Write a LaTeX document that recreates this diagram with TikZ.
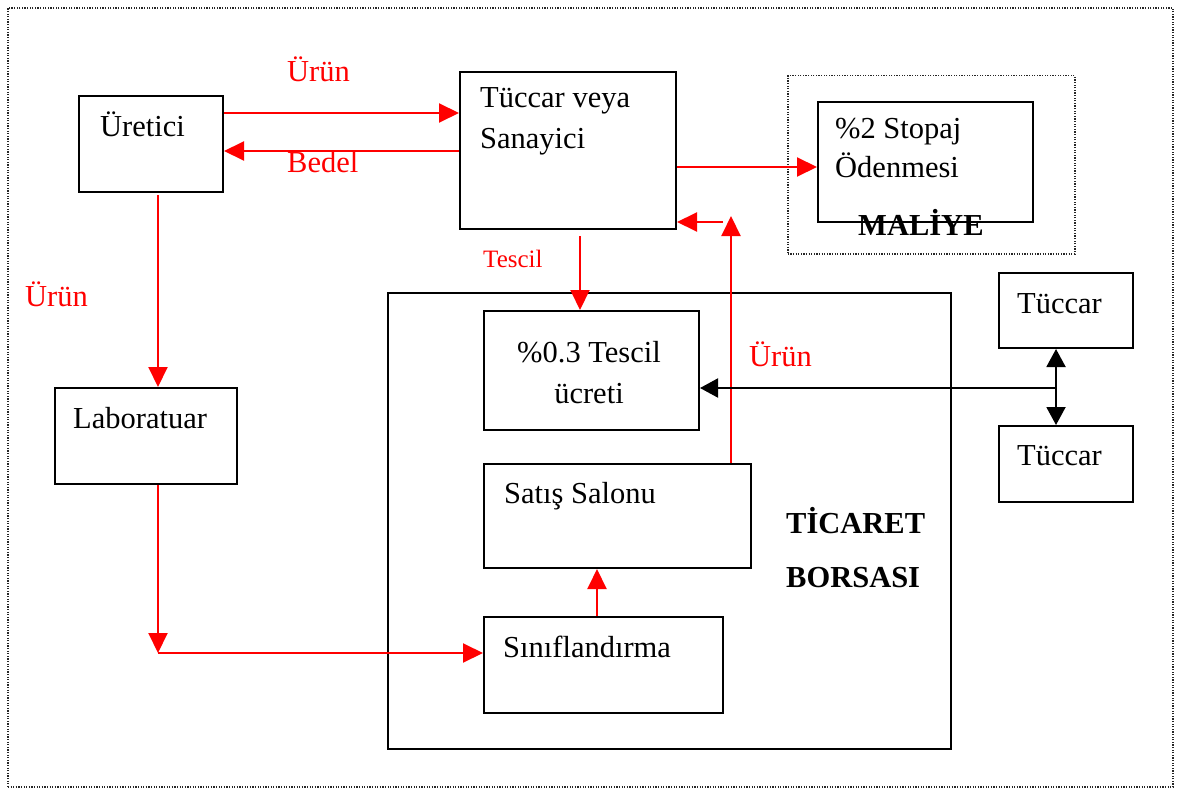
\documentclass[tikz,border=0pt]{standalone}
\usepackage{fontspec}
\setmainfont{Liberation Serif}
\usetikzlibrary{arrows.meta,calc}
\definecolor{pured}{RGB}{255,0,0}
\tikzset{
  box/.style={draw=black,line width=2pt,inner sep=0pt,anchor=north west},
  dotbox/.style={draw=black!85,line width=1.8pt,dash pattern=on 1.2pt off 1.4pt,inner sep=0pt,anchor=north west},
  txt/.style={anchor=base west,inner sep=0pt,font=\fontsize{30.5}{40}\selectfont},
  rtxt/.style={txt,text=pured},
  rarr/.style={draw=pured,line width=2pt,-{Triangle[length=20pt,width=19pt]}},
  barr/.style={draw=black,line width=2pt,-{Triangle[length=18pt,width=19pt]}},
  bdarr/.style={draw=black,line width=2pt,{Triangle[length=18pt,width=19pt]}-{Triangle[length=18pt,width=19pt]}},
}
\begin{document}
\begin{tikzpicture}[x=1pt,y=-1pt]
\useasboundingbox (0,0) rectangle (1177,789);
% outer frame
\node[dotbox,minimum width=1165pt,minimum height=779pt] (frame) at (7,7) {};
% boxes
\node[box,minimum width=144pt,minimum height=96pt] (ure) at (78,95) {};
\node[box,minimum width=216pt,minimum height=157pt] (tuc) at (459,71) {};
\node[dotbox,line width=1.5pt,minimum width=287pt,minimum height=178pt] (mal) at (787,75) {};
\node[box,minimum width=215pt,minimum height=120pt] (stp) at (817,101) {};
\node[box,minimum width=563pt,minimum height=456pt] (bor) at (387,292) {};
\node[box,minimum width=215pt,minimum height=119pt] (tes) at (483,310) {};
\node[box,minimum width=267pt,minimum height=104pt] (sat) at (483,463) {};
\node[box,minimum width=239pt,minimum height=96pt] (sin) at (483,616) {};
\node[box,minimum width=182pt,minimum height=96pt] (lab) at (54,387) {};
\node[box,minimum width=134pt,minimum height=75pt] (tc1) at (998,272) {};
\node[box,minimum width=134pt,minimum height=76pt] (tc2) at (998,425) {};
% texts
\node[txt] (t-ure) at (100,136) {Üretici};
\node[txt] (t-tuc1) at (480,108) {Tüccar veya};
\node[txt] (t-tuc2) at (480,148) {Sanayici};
\node[txt] (t-stp1) at (835,139) {\%2 Stopaj};
\node[txt] (t-stp2) at (835,177) {Ödenmesi};
\node[txt,font=\fontsize{30.5}{40}\selectfont\bfseries] (t-mal) at (858,235) {MALİYE};
\node[txt,anchor=base] (t-tes1) at (589,362) {\%0.3 Tescil};
\node[txt,anchor=base] (t-tes2) at (589,403) {ücreti};
\node[txt] (t-sat) at (504,503) {Satış Salonu};
\node[txt] (t-sin) at (503,657) {Sınıflandırma};
\node[txt] (t-lab) at (73,428) {Laboratuar};
\node[txt] (t-tc1) at (1017,313) {Tüccar};
\node[txt] (t-tc2) at (1017,465) {Tüccar};
\node[txt,font=\fontsize{30.5}{40}\selectfont\bfseries] (t-bor1) at (786,533) {TİCARET};
\node[txt,font=\fontsize{30.5}{40}\selectfont\bfseries] (t-bor2) at (786,587) {BORSASI};
% red labels
\node[rtxt] (l-urun1) at (287,82) {Ürün};
\node[rtxt] (l-bedel) at (287,172) {Bedel};
\node[rtxt,font=\fontsize{25}{30}\selectfont] (l-tescil) at (483,267) {Tescil};
\node[rtxt] (l-urun2) at (25,306) {Ürün};
\node[rtxt] (l-urun3) at (749,366) {Ürün};
% connectors
\draw[rarr] ($(ure.north east)+(0,18)$) coordinate (a1) -- (a1 -| tuc.west);
\draw[rarr] ($(tuc.north west)+(0,80)$) coordinate (b1) -- (b1 -| ure.east);
\draw[rarr] ($(tuc.north east)+(0,96)$) coordinate (c1) -- (c1 -| stp.west);
\draw[rarr] ($(tuc.south)+(12,6)$) coordinate (d1) -- (d1 |- tes.north);
\coordinate (e2) at (731,216);
\draw[rarr] (sat.north -| e2) -- (e2);
\coordinate (e3) at (723,222);
\draw[rarr] (e3) -- (e3 -| tuc.east);
\coordinate (f1) at (158,195);
\draw[rarr] (f1) -- (f1 |- lab.north);
\coordinate (g2) at (158,653);
\draw[rarr] (lab.south -| g2) -- (g2);
\draw[rarr] (g2) -- (g2 -| sin.west);
\coordinate (h1) at (597,616);
\draw[rarr] (h1) -- (h1 |- sat.south);
% black
\coordinate (k1) at (1056,388);
\draw[bdarr] (tc1.south -| k1) -- (tc2.north -| k1);
\draw[barr] (k1) -- (k1 -| tes.east);
\end{tikzpicture}
\end{document}
